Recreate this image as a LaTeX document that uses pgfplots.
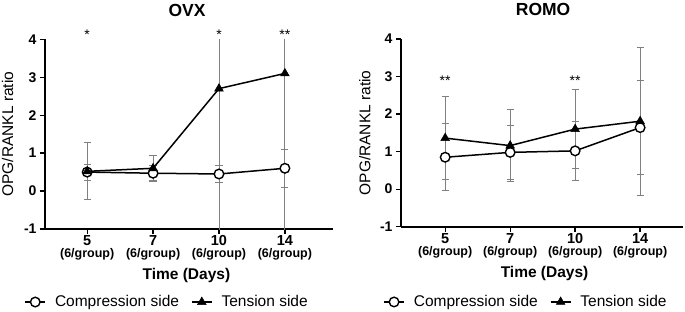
\documentclass[border=0pt]{standalone}
\usepackage{pgfplots}
\pgfplotsset{compat=1.18}
\usepackage{pgfplotstable}
\usepackage{fontspec}
\setmainfont{Liberation Sans}

\pgfplotstableread{
x c ce t te
0 0.50 0.21 0.52 0.75
1 0.47 0.20 0.60 0.34
2 0.45 0.22 2.70 4.50
3 0.60 0.51 3.10 4.50
}\ovx
\pgfplotstableread{
x c ce t te
0 0.85 0.89 1.36 1.10
1 0.98 0.72 1.16 0.96
2 1.02 0.79 1.60 1.06
3 1.64 1.26 1.81 1.97
}\romo

\newcommand\xl[1]{#1\\{\fontsize{12.5}{12}\selectfont (6/group)}}

\pgfplotsset{
 panel/.style={
  scale only axis,
  anchor=south west,
  axis x line*=bottom, axis y line*=left,
  axis line style={line width=1.6pt},
  ymin=-1, ymax=4,
  ytick={-1,0,1,2,3,4},
  yticklabels={-1,0,1,2,3,4},
  xtick={0,1,2,3},
  xticklabels={\xl{5},\xl{7},\xl{10},\xl{14}},
  tick style={line width=1.3pt, black},
  tick align=outside,
  major tick length=5pt,
  yticklabel style={font=\fontsize{14}{14}\selectfont\bfseries},
  xticklabel style={align=center, font=\fontsize{14.5}{12}\selectfont\bfseries, yshift=2pt},
  clip mode=individual,
  ylabel={OPG/RANKL ratio},
  xlabel={Time (Days)},
  every axis y label/.style={rotate=90, anchor=center, font=\fontsize{15.5}{15.5}\selectfont},
  every axis x label/.style={anchor=center, font=\fontsize{15.5}{15.5}\selectfont\bfseries},
  every axis title/.style={anchor=center, font=\fontsize{17.5}{17.5}\selectfont\bfseries},
  legend columns=2,
  legend cell align=left,
  legend image code/.code={\draw[mark repeat=2,mark phase=2] plot coordinates {(0pt,0pt)(10pt,0pt)(20pt,0pt)};},
  legend style={draw=none, fill=none, font=\fontsize{15.5}{15.5}\selectfont, anchor=center,
     /tikz/every odd column/.append style={column sep=7pt},
     /tikz/every even column/.append style={column sep=10pt}},
 },
 ebar/.style={forget plot, only marks, mark=none,
   error bars/.cd, y dir=both, y explicit,
   error bar style={draw=black!50, line width=0.8pt},
   error mark options={rotate=90, mark size=3.6pt, draw=black!50, line width=0.8pt}},
 comp/.style={black, line width=1.5pt, mark=*, mark size=4.8pt, mark options={fill=white, line width=1.4pt}},
 tens/.style={black, line width=1.5pt, mark=triangle*, mark size=5pt, mark options={fill=black, line width=0.5pt}},
}

\begin{document}
\begin{tikzpicture}
\useasboundingbox (0,0) rectangle (685pt,311pt);
\begin{axis}[panel,
  at={(45pt,82pt)}, width=288pt, height=189.7pt,
  xmin=-0.64, xmax=3.73,
  title={OVX}, title style={at={(axis description cs:0.493,1.154)}},
  ylabel style={at={(axis description cs:-0.130,0.5)}},
  xlabel style={at={(axis description cs:0.491,-0.2425)}},
  legend style={at={(axis description cs:0.424,-0.385)}},
]
\addplot[ebar] table[x=x, y=t, y error=te] {\ovx};
\addplot[ebar] table[x=x, y=c, y error=ce] {\ovx};
\addplot[comp] table[x=x, y=c] {\ovx};
\addlegendentry{Compression side}
\addplot[tens] table[x=x, y=t] {\ovx};
\addlegendentry{Tension side}
\node[font=\fontsize{14}{14}\selectfont] at (axis cs:0,4.11) {*};
\node[font=\fontsize{14}{14}\selectfont] at (axis cs:2,4.11) {*};
\node[font=\fontsize{14}{14}\selectfont] at (axis cs:3,4.11) {**};
\end{axis}
\begin{axis}[panel,
  at={(401pt,84.3pt)}, width=282pt, height=187.7pt,
  xmin=-0.68, xmax=3.66,
  title={ROMO}, title style={at={(axis description cs:0.504,1.155)}},
  ylabel style={at={(axis description cs:-0.128,0.5)}},
  xlabel style={at={(axis description cs:0.509,-0.247)}},
  legend style={at={(axis description cs:0.443,-0.401)}},
]
\addplot[ebar] table[x=x, y=t, y error=te] {\romo};
\addplot[ebar] table[x=x, y=c, y error=ce] {\romo};
\addplot[comp] table[x=x, y=c] {\romo};
\addlegendentry{Compression side}
\addplot[tens] table[x=x, y=t] {\romo};
\addlegendentry{Tension side}
\node[font=\fontsize{14}{14}\selectfont] at (axis cs:0,2.90) {**};
\node[font=\fontsize{14}{14}\selectfont] at (axis cs:2,2.90) {**};
\end{axis}
\end{tikzpicture}
\end{document}
